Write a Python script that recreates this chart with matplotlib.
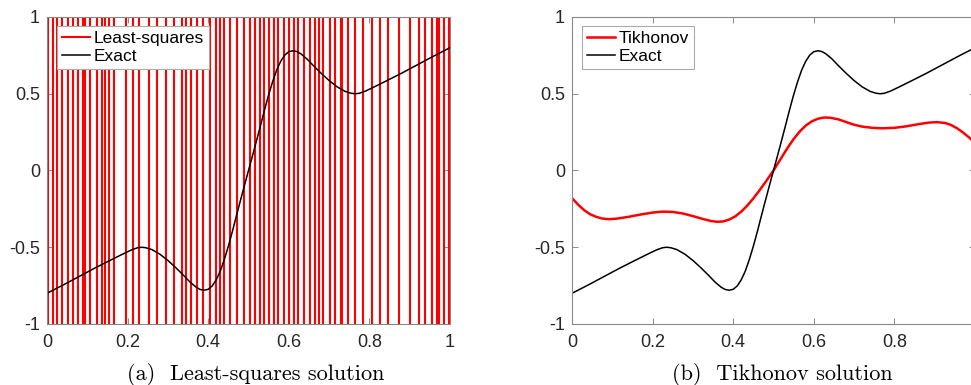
import matplotlib
matplotlib.use("Agg")
import matplotlib.pyplot as plt

# exact solution
exact_x = [0.00, 0.04, 0.08, 0.12, 0.16, 0.19, 0.21, 0.225, 0.235, 0.245, 0.26,
           0.28, 0.30, 0.32, 0.34, 0.355, 0.37, 0.38, 0.39, 0.40, 0.41, 0.42,
           0.43, 0.44, 0.45, 0.46, 0.47, 0.48, 0.49, 0.50, 0.51, 0.52, 0.53, 0.54,
           0.55, 0.56, 0.57, 0.58, 0.59, 0.60, 0.61, 0.62, 0.63, 0.645, 0.66,
           0.68, 0.70, 0.72, 0.74, 0.755, 0.765, 0.775, 0.79, 0.81, 0.84, 0.88,
           0.92, 0.96, 1.00]
exact_y = [-0.800, -0.746, -0.690, -0.634, -0.581, -0.542, -0.517, -0.503, -0.500,
           -0.503, -0.515, -0.545, -0.586, -0.634, -0.686, -0.727, -0.760, -0.775,
           -0.780, -0.774, -0.752, -0.712, -0.655, -0.580, -0.493, -0.397, -0.295,
           -0.195, -0.097, 0.000, 0.097, 0.195, 0.295, 0.397, 0.493, 0.580, 0.655,
           0.712, 0.752, 0.774, 0.780, 0.775, 0.760, 0.727, 0.686, 0.634, 0.586,
           0.545, 0.515, 0.503, 0.500, 0.503, 0.517, 0.542, 0.581, 0.634, 0.690,
           0.746, 0.800]

# Tikhonov solution
tik_x = [0.00, 0.015, 0.03, 0.045, 0.06, 0.075, 0.09, 0.11, 0.14, 0.17, 0.20,
         0.225, 0.25, 0.275, 0.30, 0.325, 0.345, 0.36, 0.375, 0.39, 0.405, 0.42,
         0.435, 0.45, 0.465, 0.48, 0.50, 0.52, 0.535, 0.55, 0.565, 0.58, 0.595,
         0.61, 0.625, 0.64, 0.66, 0.68, 0.70, 0.72, 0.745, 0.77, 0.80, 0.83, 0.86,
         0.885, 0.905, 0.925, 0.94, 0.955, 0.97, 0.985, 1.00]
tik_y = [-0.180, -0.222, -0.258, -0.285, -0.302, -0.313, -0.317, -0.314, -0.302,
         -0.287, -0.274, -0.268, -0.270, -0.280, -0.297, -0.316, -0.329, -0.334,
         -0.332, -0.320, -0.299, -0.268, -0.228, -0.182, -0.130, -0.076, 0.000,
         0.085, 0.148, 0.205, 0.254, 0.293, 0.320, 0.337, 0.345, 0.344, 0.334,
         0.316, 0.298, 0.286, 0.278, 0.275, 0.278, 0.288, 0.302, 0.312, 0.315,
         0.310, 0.297, 0.276, 0.248, 0.216, 0.180]

# least-squares solution: sign flips of huge amplitude at these positions
ls_x = [0.0, 0.0025, 0.0141, 0.0256, 0.0372, 0.0521, 0.0653, 0.0769, 0.0886, 0.0950,
        0.1067, 0.1233, 0.1365, 0.1447, 0.1531, 0.1663, 0.1960, 0.2127, 0.2275,
        0.2524, 0.2737, 0.2953, 0.3151, 0.3342, 0.3457, 0.3573, 0.3722, 0.3871,
        0.4052, 0.4201, 0.4285, 0.4385, 0.4548, 0.4715, 0.4881, 0.5045, 0.5161,
        0.5278, 0.5392, 0.5509, 0.5625, 0.5739, 0.5873, 0.6005, 0.6122, 0.6236,
        0.6370, 0.6519, 0.6643, 0.6757, 0.6856, 0.7022, 0.7154, 0.7288, 0.7320,
        0.7469, 0.7650, 0.7849, 0.8065, 0.8263, 0.8462, 0.8742, 0.9007, 0.9223,
        0.9387, 0.9553, 0.9670, 0.9734, 0.9851, 0.9968, 1.0]
ls_amp = 1e6
ls_y = [ls_amp if i % 2 == 0 else -ls_amp for i in range(len(ls_x))]

xticks = [0, 0.2, 0.4, 0.6, 0.8, 1]
xticklabels = ['0', '0.2', '0.4', '0.6', '0.8', '1']
yticks = [-1, -0.5, 0, 0.5, 1]
yticklabels = ['-1', '-0.5', '0', '0.5', '1']

plt.rcParams['font.family'] = 'Liberation Sans'

fig = plt.figure(figsize=(9.71, 3.85), dpi=100)
W, H = 971.0, 385.0
ax1 = fig.add_axes([47 / W, 61 / H, 403 / W, 307 / H])
ax2 = fig.add_axes([572 / W, 61 / H, 403 / W, 307 / H])

ax1.plot(ls_x, ls_y, color='red', linewidth=1.5, drawstyle='steps-post',
         label='Least-squares')
ax1.plot(exact_x, exact_y, color='black', linewidth=1.1, label='Exact')

ax2.plot(tik_x, tik_y, color='red', linewidth=1.8, label='Tikhonov')
ax2.plot(exact_x, exact_y, color='black', linewidth=1.1, label='Exact')

for ax in (ax1, ax2):
    ax.set_xlim(0, 1)
    ax.set_ylim(-1, 1)
    ax.set_xticks(xticks)
    ax.set_xticklabels(xticklabels)
    ax.set_yticks(yticks)
    ax.set_yticklabels(yticklabels)
    ax.tick_params(direction='in', length=4, width=0.6, color='#777777',
                   labelsize=13, labelcolor='#262626',
                   top=True, right=True)
    ax.tick_params(axis='y', pad=5)
    ax.tick_params(axis='x', pad=7)
    for s in ax.spines.values():
        s.set_color('#888888')
        s.set_linewidth(0.8)
    leg = ax.legend(loc='upper left', bbox_to_anchor=(10 / 403, 1 - 9 / 307),
                    borderaxespad=0, fancybox=False, framealpha=1,
                    edgecolor='#aaaaaa', fontsize=12.5, handlelength=1.6,
                    handletextpad=0.2, borderpad=0.3, labelspacing=0.15)
    leg.get_frame().set_linewidth(0.8)

fig.text(256 / W, 1 - 375 / H, '(a)  Least-squares solution', family='cmr10',
         fontsize=16, ha='center', va='center')
fig.text(782 / W, 1 - 375 / H, '(b)  Tikhonov solution', family='cmr10',
         fontsize=16, ha='center', va='center')

fig.savefig('out.png', dpi=100)
